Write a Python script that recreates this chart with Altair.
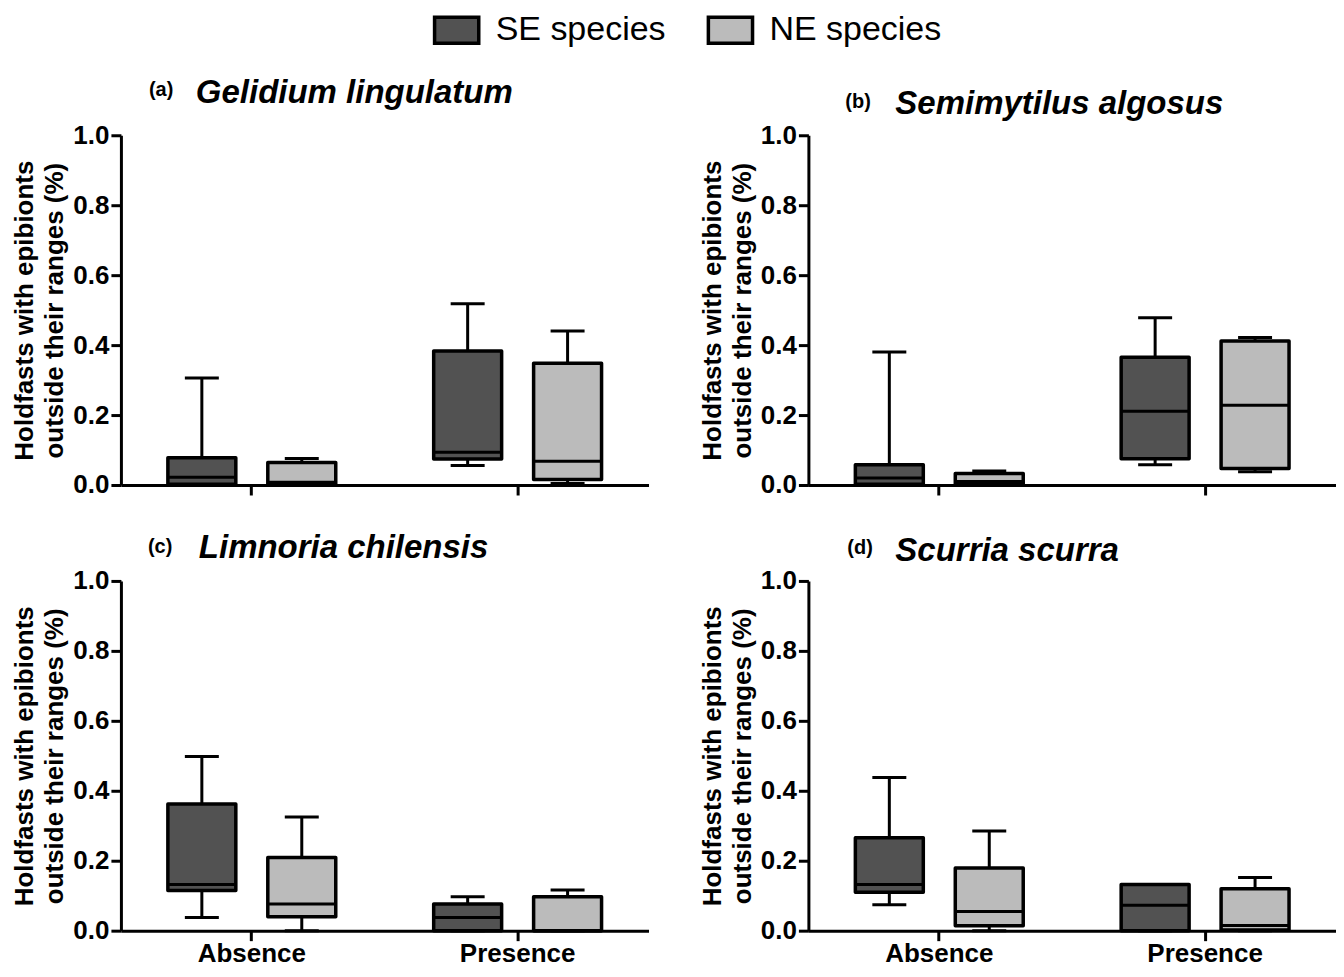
import altair as alt
import pandas as pd

FONT = "Liberation Sans"

panel_ids = ["(a)", "(b)", "(c)", "(d)"]
species_names = ["Gelidium lingulatum", "Semimytilus algosus",
                 "Limnoria chilensis", "Scurria scurra"]
conditions = ["Absence", "Presence"]
groups = ["SE species", "NE species"]

# order inside each panel: Absence-SE, Absence-NE, Presence-SE, Presence-NE
box_condition = ["Absence", "Absence", "Presence", "Presence"]
box_group = ["SE species", "NE species", "SE species", "NE species"]

a_min = [0.000, 0.000, 0.056, 0.004]
a_q1 = [0.002, 0.002, 0.074, 0.016]
a_med = [0.022, 0.008, 0.094, 0.068]
a_q3 = [0.078, 0.064, 0.383, 0.348]
a_max = [0.306, 0.076, 0.518, 0.440]

b_min = [0.000, 0.000, 0.058, 0.038]
b_q1 = [0.002, 0.003, 0.075, 0.047]
b_med = [0.020, 0.010, 0.211, 0.228]
b_q3 = [0.058, 0.033, 0.365, 0.412]
b_max = [0.380, 0.040, 0.478, 0.422]

c_min = [0.038, 0.000, 0.000, 0.000]
c_q1 = [0.115, 0.040, 0.000, 0.000]
c_med = [0.132, 0.076, 0.038, 0.000]
c_q3 = [0.362, 0.209, 0.076, 0.097]
c_max = [0.498, 0.325, 0.097, 0.116]

d_min = [0.074, 0.000, 0.000, 0.000]
d_q1 = [0.110, 0.014, 0.000, 0.002]
d_med = [0.132, 0.055, 0.073, 0.015]
d_q3 = [0.266, 0.179, 0.132, 0.120]
d_max = [0.438, 0.285, 0.132, 0.152]

stats = [
    (a_min, a_q1, a_med, a_q3, a_max),
    (b_min, b_q1, b_med, b_q3, b_max),
    (c_min, c_q1, c_med, c_q3, c_max),
    (d_min, d_q1, d_med, d_q3, d_max),
]

y_ticks = [0.0, 0.2, 0.4, 0.6, 0.8, 1.0]

# title offsets relative to each plot's top-left corner (px)
title_pos = [
    dict(id_x=28, id_y=-39, sp_x=75, sp_y=-32),
    dict(id_x=37, id_y=-27, sp_x=87, sp_y=-21),
    dict(id_x=27, id_y=-28, sp_x=78, sp_y=-23),
    dict(id_x=39, id_y=-27, sp_x=87, sp_y=-20),
]

PW, PH = 528, 350


def panel(i, bottom):
    mn, q1, md, q3, mx = stats[i]
    df = pd.DataFrame({
        "condition": box_condition, "group": box_group,
        "lo": mn, "q1": q1, "med": md, "q3": q3, "hi": mx,
    })
    xaxis = alt.Axis(
        title=None, labels=bottom, labelFontSize=26, labelFontWeight="bold",
        labelFont=FONT, labelColor="black", labelPadding=0, labelAngle=0,
        tickSize=10, tickWidth=3, tickColor="black",
        domainWidth=3, domainColor="black",
    )
    yaxis = alt.Axis(
        title=["Holdfasts with epibionts", "outside their ranges (%)"],
        titleFontSize=26, titleFontWeight="bold", titleFont=FONT,
        titleColor="black", titleLineHeight=30, titlePadding=5,
        values=y_ticks, format=".1f", labelFontSize=26,
        labelFontWeight="bold", labelFont=FONT, labelColor="black",
        labelPadding=2, tickSize=10, tickWidth=3, tickColor="black",
        domainWidth=3, domainColor="black", grid=False,
    )
    yscale = alt.Scale(domain=[0, 1], nice=False, zero=True)
    base = alt.Chart(df).encode(
        x=alt.X("condition:N", sort=conditions,
                scale=alt.Scale(domain=conditions, paddingInner=0.2481,
                                paddingOuter=0.1165),
                axis=xaxis),
        xOffset=alt.XOffset("group:N",
                            scale=alt.Scale(domain=groups, paddingInner=0,
                                            paddingOuter=0)),
    )
    whisk = base.mark_rule(color="black", strokeWidth=3).encode(
        y=alt.Y("lo:Q", scale=yscale, axis=yaxis), y2="hi:Q")
    box = base.mark_bar(width=68, stroke="black", strokeWidth=3.5,
                        strokeJoin="round", opacity=1).encode(
        y=alt.Y("q1:Q", scale=yscale, axis=yaxis), y2="q3:Q",
        fill=alt.Fill("group:N",
                      scale=alt.Scale(domain=groups,
                                      range=["#525252", "#bbbbbb"]),
                      legend=alt.Legend(
                          title=None, orient="none", direction="horizontal",
                          legendX=319, legendY=-122, padding=0,
                          symbolType="M-1.7,-1L1.7,-1L1.7,1L-1.7,1Z",
                          symbolSize=676, symbolStrokeColor="black",
                          symbolStrokeWidth=3.5, symbolOpacity=1,
                          labelFontSize=34, labelFont=FONT,
                          labelColor="black", labelOffset=22,
                          columnPadding=34, labelLimit=400)))
    med = base.mark_tick(color="black", thickness=3, size=68,
                         opacity=1).encode(y=alt.Y("med:Q", scale=yscale))
    cap_hi = base.mark_tick(color="black", thickness=3, size=34,
                            opacity=1).encode(y=alt.Y("hi:Q", scale=yscale))
    cap_lo = base.mark_tick(color="black", thickness=3, size=34,
                            opacity=1).encode(y=alt.Y("lo:Q", scale=yscale))

    tp = title_pos[i]
    tdf = pd.DataFrame({"pid": [panel_ids[i]], "sp": [species_names[i]]})
    tid = alt.Chart(tdf).mark_text(
        font=FONT, fontSize=20, fontWeight="bold", align="left",
        baseline="alphabetic", color="black").encode(
        text="pid:N", x=alt.value(tp["id_x"]), y=alt.value(tp["id_y"]))
    tsp = alt.Chart(tdf).mark_text(
        font=FONT, fontSize=33, fontWeight="bold", fontStyle="italic",
        align="left", baseline="alphabetic", color="black").encode(
        text="sp:N", x=alt.value(tp["sp_x"]), y=alt.value(tp["sp_y"]))

    return alt.layer(whisk, box, med, cap_hi, cap_lo, tid, tsp).properties(
        width=PW, height=PH)


chart = alt.concat(
    panel(0, False), panel(1, False), panel(2, True), panel(3, True),
    columns=2, spacing={"row": 96, "column": 160}, bounds="flush",
).resolve_scale(fill="shared").properties(
    padding={"left": 3, "top": 5, "right": 0, "bottom": 0},
    background="white",
).configure_view(stroke=None)

chart.save("out.html", embed_options={"renderer": "svg", "actions": False})
